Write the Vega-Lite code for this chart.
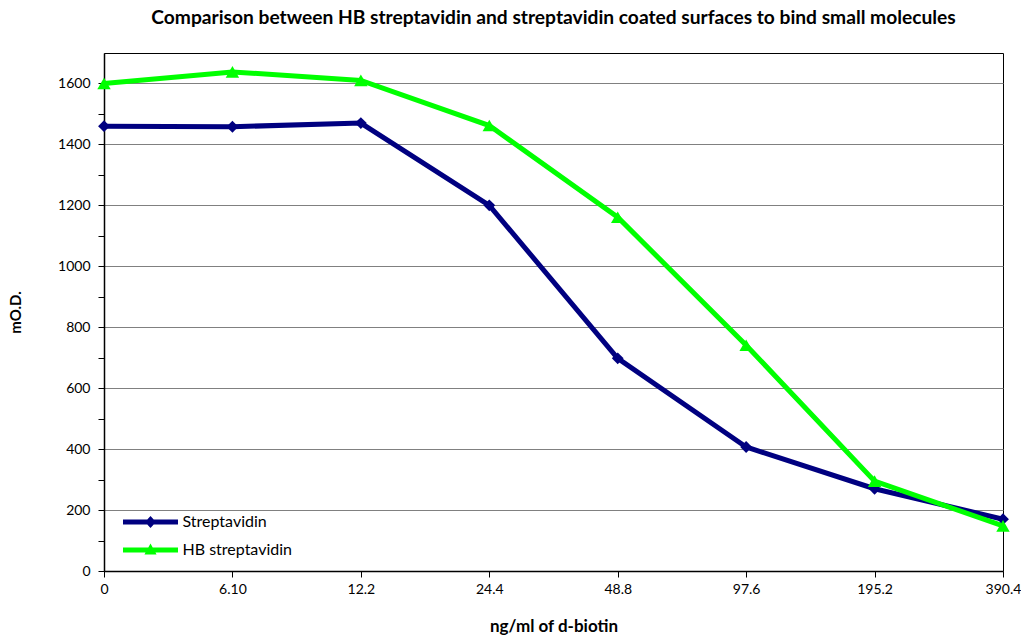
{
  "$schema": "https://vega.github.io/schema/vega-lite/v6.json",
  "width": 899,
  "height": 518,
  "autosize": {"type": "none"},
  "padding": {"left": 104, "top": 53, "right": 18, "bottom": 66},
  "background": "white",
  "config": {
    "font": "Lato",
    "view": {"stroke": "#000", "strokeWidth": 1}
  },
  "title": {
    "text": "Comparison between HB streptavidin and streptavidin coated surfaces to bind small molecules",
    "fontSize": 19.2,
    "fontWeight": "bold",
    "font": "Lato",
    "color": "#000",
    "anchor": "middle",
    "offset": 25
  },
  "data": {
    "values": [
      {"conc": "0", "series": "Streptavidin", "od": 1460},
      {"conc": "6.10", "series": "Streptavidin", "od": 1458},
      {"conc": "12.2", "series": "Streptavidin", "od": 1470},
      {"conc": "24.4", "series": "Streptavidin", "od": 1200},
      {"conc": "48.8", "series": "Streptavidin", "od": 698},
      {"conc": "97.6", "series": "Streptavidin", "od": 407},
      {"conc": "195.2", "series": "Streptavidin", "od": 270},
      {"conc": "390.4", "series": "Streptavidin", "od": 170},
      {"conc": "0", "series": "HB streptavidin", "od": 1600},
      {"conc": "6.10", "series": "HB streptavidin", "od": 1638},
      {"conc": "12.2", "series": "HB streptavidin", "od": 1610},
      {"conc": "24.4", "series": "HB streptavidin", "od": 1462},
      {"conc": "48.8", "series": "HB streptavidin", "od": 1161},
      {"conc": "97.6", "series": "HB streptavidin", "od": 741},
      {"conc": "195.2", "series": "HB streptavidin", "od": 295},
      {"conc": "390.4", "series": "HB streptavidin", "od": 148}
    ]
  },
  "encoding": {
    "x": {
      "field": "conc",
      "type": "ordinal",
      "sort": ["0", "6.10", "12.2", "24.4", "48.8", "97.6", "195.2", "390.4"],
      "scale": {"type": "point", "padding": 0},
      "axis": {
        "title": "ng/ml of d-biotin",
        "titleFont": "Lato",
        "titleFontSize": 17,
        "titleFontWeight": "bold",
        "titleColor": "#000",
        "titleY": 55,
        "titleBaseline": "middle",
        "labelAngle": 0,
        "labelFontSize": 14,
        "labelColor": "#000",
        "labelPadding": 5,
        "tickSize": 6,
        "tickColor": "#000",
        "domainColor": "#000",
        "domainWidth": 1.5,
        "grid": false
      }
    },
    "y": {
      "field": "od",
      "type": "quantitative",
      "scale": {"domain": [0, 1700], "nice": false},
      "axis": {
        "title": "mO.D.",
        "titleFont": "Lato",
        "titleFontSize": 15,
        "titleFontWeight": "bold",
        "titleColor": "#000",
        "titleX": -89,
        "titleY": 259,
        "titleAngle": -90,
        "titleAlign": "center",
        "titleBaseline": "middle",
        "values": [0, 100, 200, 300, 400, 500, 600, 700, 800, 900, 1000, 1100, 1200, 1300, 1400, 1500, 1600],
        "labelExpr": "datum.value % 200 === 0 ? datum.label : ''",
        "format": "d",
        "labelFontSize": 14,
        "labelColor": "#000",
        "labelPadding": 8,
        "tickSize": 6,
        "tickColor": "#000",
        "domainColor": "#000",
        "domainWidth": 1.5,
        "grid": true,
        "gridColor": "#808080",
        "gridWidth": 1,
        "gridOpacity": {"condition": {"test": "datum.value % 200 === 0", "value": 1}, "value": 0}
      }
    }
  },
  "layer": [
    {
      "transform": [{"filter": "datum.series === 'Streptavidin'"}],
      "mark": {"type": "line", "strokeWidth": 5, "color": "#000080"},
      "encoding": {}
    },
    {
      "transform": [{"filter": "datum.series === 'HB streptavidin'"}],
      "mark": {"type": "line", "strokeWidth": 5, "color": "#00FF00"},
      "encoding": {}
    },
    {
      "transform": [{"filter": "datum.series === 'Streptavidin'"}],
      "mark": {"type": "point", "shape": "diamond", "filled": true, "opacity": 1, "size": 140, "color": "#000080"},
      "encoding": {}
    },
    {
      "transform": [{"filter": "datum.series === 'HB streptavidin'"}],
      "mark": {"type": "point", "shape": "triangle-up", "filled": true, "opacity": 1, "size": 180, "color": "#00FF00"},
      "encoding": {}
    },
    {
      "mark": {"type": "point", "filled": true, "opacity": 0, "size": 10},
      "encoding": {
        "shape": {
          "field": "series",
          "type": "nominal",
          "scale": {
            "domain": ["Streptavidin", "HB streptavidin"],
            "range": [
              "M-2,-0.18H2V0.18H-2Z M0,-0.44L0.4,0L0,0.44L-0.4,0Z",
              "M-2,-0.18H2V0.18H-2Z M0,-0.48L0.44,0.32L-0.44,0.32Z"
            ]
          },
          "legend": {
            "title": null,
            "orient": "none",
            "legendX": 32.5,
            "legendY": 455,
            "symbolSize": 756,
            "symbolOpacity": 1,
            "symbolStrokeWidth": 0,
            "labelFontSize": 16,
            "labelColor": "#000",
            "labelOffset": 18,
            "rowPadding": 6
          }
        },
        "color": {
          "field": "series",
          "type": "nominal",
          "scale": {"domain": ["Streptavidin", "HB streptavidin"], "range": ["#000080", "#00FF00"]},
          "legend": {
            "title": null,
            "orient": "none",
            "legendX": 32.5,
            "legendY": 455,
            "symbolSize": 756,
            "symbolOpacity": 1,
            "symbolStrokeWidth": 0,
            "labelFontSize": 16,
            "labelColor": "#000",
            "labelOffset": 18,
            "rowPadding": 6
          }
        }
      }
    }
  ]
}
